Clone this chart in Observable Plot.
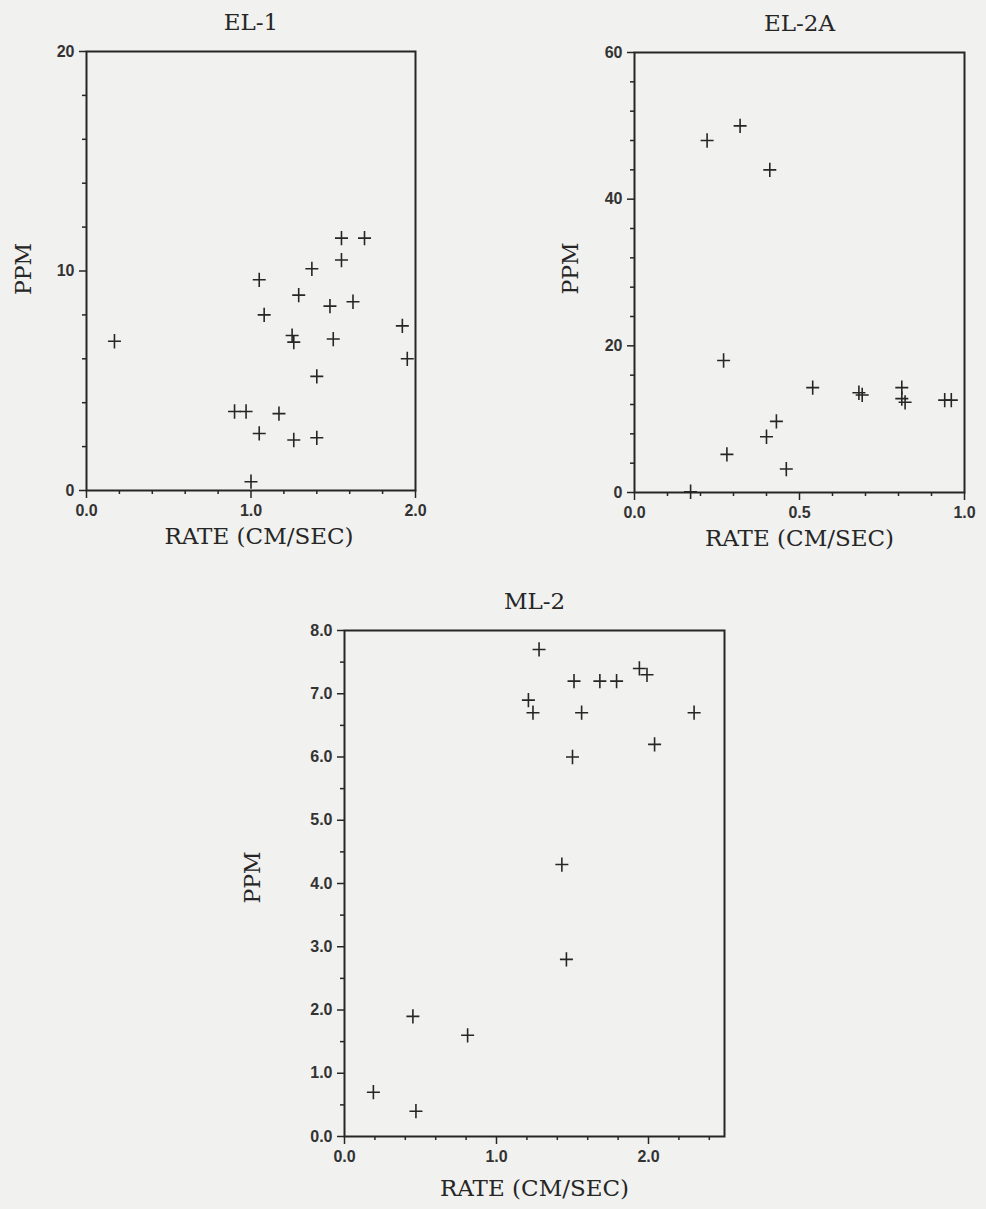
<!DOCTYPE html>
<html>
<head>
<meta charset="utf-8">
<script src="https://cdn.jsdelivr.net/npm/d3@7"></script>
<script src="https://cdn.jsdelivr.net/npm/@observablehq/plot@0.6"></script>
<style>
  html, body { margin: 0; padding: 0; background: #f1f1ef; }
  #page { position: relative; width: 986px; height: 1209px; overflow: hidden; background: #f1f1ef; }
  .panel { position: absolute; }
</style>
</head>
<body>
<div id="page">
  <div class="panel" id="el1" style="left:0px; top:0px;"></div>
  <div class="panel" id="el2a" style="left:500px; top:0px;"></div>
  <div class="panel" id="ml2" style="left:240px; top:570px;"></div>
</div>
<script>
// ---- Data ----
const el1Rate = [1.55, 1.69, 1.55, 1.37, 1.05, 1.29, 1.48, 1.62, 1.08, 0.17, 1.25, 1.26, 1.50, 1.92, 1.95, 1.40, 0.90, 0.97, 1.17, 1.05, 1.26, 1.40, 1.00];
const el1Ppm  = [11.5, 11.5, 10.5, 10.1, 9.6, 8.9, 8.4, 8.6, 8.0, 6.8, 7.06, 6.76, 6.9, 7.5, 6.0, 5.2, 3.6, 3.6, 3.5, 2.6, 2.3, 2.4, 0.4];

const el2aRate = [0.22, 0.32, 0.41, 0.27, 0.54, 0.68, 0.69, 0.81, 0.81, 0.82, 0.94, 0.96, 0.43, 0.40, 0.28, 0.46, 0.17];
const el2aPpm  = [48, 50, 44, 18, 14.3, 13.6, 13.3, 14.3, 12.8, 12.3, 12.6, 12.6, 9.7, 7.6, 5.2, 3.2, 0.1];

const ml2Rate = [1.28, 1.94, 1.99, 1.51, 1.68, 1.79, 1.21, 1.24, 1.56, 2.30, 2.04, 1.50, 1.43, 1.46, 0.45, 0.81, 0.19, 0.47];
const ml2Ppm  = [7.7, 7.4, 7.3, 7.2, 7.2, 7.2, 6.9, 6.7, 6.7, 6.7, 6.2, 6.0, 4.3, 2.8, 1.9, 1.6, 0.7, 0.4];

// ---- Tick values ----
const el1XMajor = [0, 1, 2];
const el1XMinor = [0.2, 0.4, 0.6, 0.8, 1.2, 1.4, 1.6, 1.8];
const el1YMajor = [0, 10, 20];
const el1YMinor = [2, 4, 6, 8, 12, 14, 16, 18];

const el2aXMajor = [0, 0.5, 1];
const el2aXMinor = [0.1, 0.2, 0.3, 0.4, 0.6, 0.7, 0.8, 0.9];
const el2aYMajor = [0, 20, 40, 60];
const el2aYMinor = [4, 8, 12, 16, 24, 28, 32, 36, 44, 48, 52, 56];

const ml2XMajor = [0, 1, 2];
const ml2XMinor = [0.2, 0.4, 0.6, 0.8, 1.2, 1.4, 1.6, 1.8, 2.2, 2.4];
const ml2YMajor = [0, 1, 2, 3, 4, 5, 6, 7, 8];
const ml2YMinor = [0.5, 1.5, 2.5, 3.5, 4.5, 5.5, 6.5, 7.5];

const titles = ["EL-1", "EL-2A", "ML-2"];
const xLabel = "RATE (CM/SEC)";
const yLabel = "PPM";

// ---- Drawing ----
const ink = "#262626";
const serif = "'DejaVu Serif', 'Liberation Serif', serif";
const sans = "'Liberation Sans', Arial, sans-serif";

const plusSymbol = {
  draw(ctx, size) {
    const r = Math.sqrt(size / Math.PI);
    ctx.moveTo(-r, 0); ctx.lineTo(r, 0);
    ctx.moveTo(0, -r * 1.1); ctx.lineTo(0, r * 1.1);
  }
};

function makeChart(o) {
  const data = o.xs.map((x, i) => ({x, y: o.ys[i]}));
  return Plot.plot({
    width: o.width, height: o.height,
    marginLeft: o.ml, marginRight: o.mr, marginTop: o.mt, marginBottom: o.mb,
    style: {background: "transparent", color: ink, overflow: "visible", fontSize: "16px", fontFamily: sans},
    x: {domain: o.xDomain, label: null},
    y: {domain: o.yDomain, label: null},
    marks: [
      Plot.axisX(o.xMinor, {tickSize: 4, tickFormat: () => "", stroke: ink, strokeWidth: 1.5, label: null}),
      Plot.axisX(o.xMajor, {tickSize: 8, tickPadding: 6, tickFormat: o.xFmt, stroke: ink, strokeWidth: 1.5,
        fontSize: 16, fontFamily: sans, fontWeight: 600, fill: "#333", label: null}),
      Plot.axisY(o.yMinor, {tickSize: 4, tickFormat: () => "", stroke: ink, strokeWidth: 1.5, label: null}),
      Plot.axisY(o.yMajor, {tickSize: 7, tickPadding: 5, tickFormat: o.yFmt, stroke: ink, strokeWidth: 1.5,
        fontSize: 16, fontFamily: sans, fontWeight: 600, fill: "#333", label: null}),
      Plot.frame({stroke: ink, strokeWidth: 2}),
      Plot.dot(data, {x: "x", y: "y", symbol: plusSymbol, r: 6.5, stroke: ink, strokeWidth: 1.6, fill: "none"}),
      Plot.text([o.title], {frameAnchor: "top", dy: -22, lineAnchor: "bottom",
        fontSize: 23, fontFamily: serif, fill: ink}),
      Plot.text([xLabel], {frameAnchor: "bottom", dx: o.xLabelDx, dy: o.xLabelDy, lineAnchor: "bottom",
        fontSize: 23, fontFamily: serif, fill: ink}),
      Plot.text([yLabel], {frameAnchor: "left", dx: o.yLabelDx, dy: o.yLabelDy, rotate: -90,
        textAnchor: "middle", lineAnchor: "middle",
        fontSize: 22, fontFamily: serif, fill: ink})
    ]
  });
}

const f1 = d3.format(".1f");
const f0 = d3.format("d");

document.getElementById("el1").appendChild(makeChart({
  xs: el1Rate, ys: el1Ppm, title: titles[0],
  width: 470, height: 550, ml: 86, mr: 55, mt: 51, mb: 60,
  xDomain: [0, 2], yDomain: [0, 20],
  xMajor: el1XMajor, xMinor: el1XMinor, yMajor: el1YMajor, yMinor: el1YMinor,
  xFmt: f1, yFmt: f0, xLabelDx: 8, xLabelDy: 53, yLabelDx: -63, yLabelDy: -2
}));

document.getElementById("el2a").appendChild(makeChart({
  xs: el2aRate, ys: el2aPpm, title: titles[1],
  width: 486, height: 550, ml: 134, mr: 22, mt: 52, mb: 58,
  xDomain: [0, 1], yDomain: [0, 60],
  xMajor: el2aXMajor, xMinor: el2aXMinor, yMajor: el2aYMajor, yMinor: el2aYMinor,
  xFmt: f1, yFmt: f0, xLabelDx: 0, xLabelDy: 53, yLabelDx: -64, yLabelDy: -4
}));

document.getElementById("ml2").appendChild(makeChart({
  xs: ml2Rate, ys: ml2Ppm, title: titles[2],
  width: 520, height: 635, ml: 104, mr: 36, mt: 60, mb: 69,
  xDomain: [0, 2.5], yDomain: [0, 8],
  xMajor: ml2XMajor, xMinor: ml2XMinor, yMajor: ml2YMajor, yMinor: ml2YMinor,
  xFmt: f1, yFmt: f1, xLabelDx: 0, xLabelDy: 59, yLabelDx: -92, yLabelDy: -6
}));
</script>
</body>
</html>
